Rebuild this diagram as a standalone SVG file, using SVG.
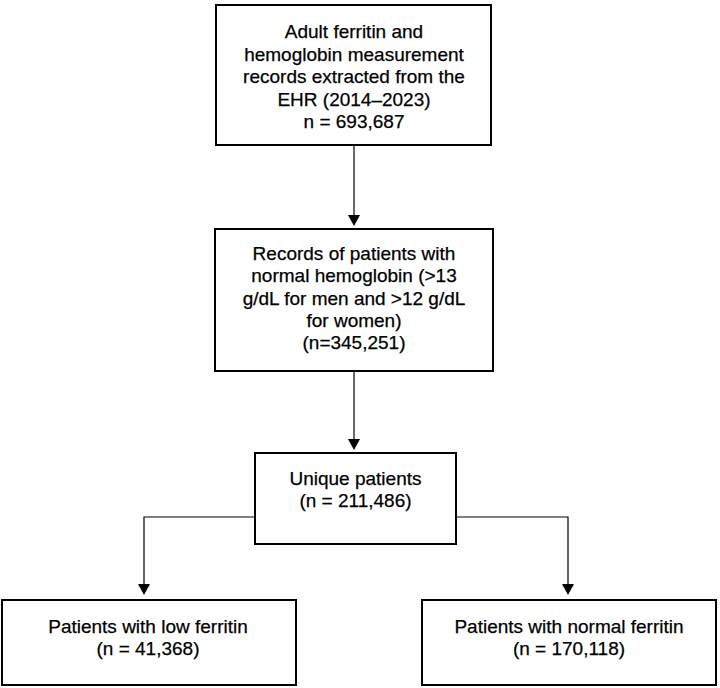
<svg xmlns="http://www.w3.org/2000/svg" width="720" height="688" viewBox="0 0 720 688">
<style>
.box{fill:#fff;stroke:#000;stroke-width:2}
.t{font-family:"Liberation Sans",Arial,sans-serif;font-size:19px;fill:#000;text-anchor:middle;stroke:#000;stroke-width:0.25}
.c{fill:none;stroke:#000;stroke-width:1.2}
.ah{fill:#000}
</style>
<rect width="720" height="688" fill="#fff"/>
<g id="connectors">
<line class="c" x1="354" y1="145" x2="354" y2="216"/>
<polygon class="ah" points="348,215 360,215 354,226"/>
<line class="c" x1="354" y1="371" x2="354" y2="440"/>
<polygon class="ah" points="348,439 360,439 354,450"/>
<polyline class="c" points="255,517 144,517 144,585"/>
<polygon class="ah" points="138,584 150,584 144,595"/>
<polyline class="c" points="456,517 568,517 568,585"/>
<polygon class="ah" points="562,584 574,584 568,595"/>
</g>
<g id="n1">
<rect class="box" x="216" y="5" width="275" height="140"/>
<text class="t" x="354" y="38">Adult ferritin and</text>
<text class="t" x="354" y="60.5">hemoglobin measurement</text>
<text class="t" x="354" y="83">records extracted from the</text>
<text class="t" x="354" y="105.5">EHR (2014–2023)</text>
<text class="t" x="354" y="128">n = 693,687</text>
</g>
<g id="n2">
<rect class="box" x="215" y="229" width="278" height="142"/>
<text class="t" x="354" y="260">Records of patients with</text>
<text class="t" x="354" y="282.3">normal hemoglobin (&gt;13</text>
<text class="t" x="354" y="304.6">g/dL for men and &gt;12 g/dL</text>
<text class="t" x="354" y="327">for women)</text>
<text class="t" x="354" y="349.3">(n=345,251)</text>
</g>
<g id="n3">
<rect class="box" x="255" y="453" width="201" height="91"/>
<text class="t" x="355.5" y="485">Unique patients</text>
<text class="t" x="355.5" y="507">(n = 211,486)</text>
</g>
<g id="n4">
<rect class="box" x="2" y="600" width="294" height="85"/>
<text class="t" x="148" y="633">Patients with low ferritin</text>
<text class="t" x="148" y="655">(n = 41,368)</text>
</g>
<g id="n5">
<rect class="box" x="422" y="600" width="294" height="85"/>
<text class="t" x="569" y="633">Patients with normal ferritin</text>
<text class="t" x="569" y="655">(n = 170,118)</text>
</g>
</svg>
